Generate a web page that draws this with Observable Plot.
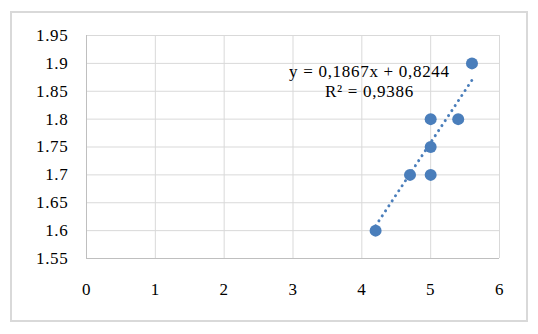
<!DOCTYPE html>
<html>
<head>
<meta charset="utf-8">
<script src="https://cdn.jsdelivr.net/npm/d3@7"></script>
<script src="https://cdn.jsdelivr.net/npm/@observablehq/plot@0.6"></script>
<style>
html, body { margin: 0; padding: 0; background: #fff; }
#wrap { position: relative; width: 538px; height: 334px; overflow: hidden; }
#wrap svg { position: absolute; left: 0; top: 0; }
#frame { position: absolute; left: 10px; top: 11px; width: 514px; height: 307px; border: 2px solid #d9d9d9; pointer-events: none; }
#wrap svg text { letter-spacing: 0.7px; }
</style>
</head>
<body>
<div id="wrap"><div id="frame"></div></div>
<script>
// Data
const xValues = [4.2, 4.7, 5, 5, 5, 5.4, 5.6];
const yValues = [1.6, 1.7, 1.7, 1.75, 1.8, 1.8, 1.9];
const xTicks = [0, 1, 2, 3, 4, 5, 6];
const yTicks = [1.55, 1.6, 1.65, 1.7, 1.75, 1.8, 1.85, 1.9, 1.95];
const yTickLabels = ["1.55", "1.6", "1.65", "1.7", "1.75", "1.8", "1.85", "1.9", "1.95"];
const trendSlope = 0.1867;
const trendIntercept = 0.8244;
const equationLines = ["y = 0,1867x + 0,8244", "R² = 0,9386"];

const points = xValues.map((x, i) => ({x, y: yValues[i]}));
const xMin = d3.min(xValues), xMax = d3.max(xValues);
const trend = [xMin, xMax].map(x => ({x, y: trendSlope * x + trendIntercept}));
const blue = "#4a7ebb";

const chart = Plot.plot({
  width: 538,
  height: 334,
  marginLeft: 86,
  marginRight: 39,
  marginTop: 35,
  marginBottom: 76,
  style: {fontFamily: "'Liberation Serif', 'Times New Roman', serif", fontSize: "17px", color: "#000", background: "transparent", overflow: "visible"},
  x: {domain: [0, 6]},
  y: {domain: [1.55, 1.95]},
  marks: [
    Plot.gridX(xTicks, {stroke: "#d9d9d9", strokeOpacity: 1}),
    Plot.gridY(yTicks, {stroke: "#d9d9d9", strokeOpacity: 1}),
    Plot.ruleX([0], {stroke: "#bfbfbf"}),
    Plot.ruleY([1.55], {stroke: "#bfbfbf"}),
    Plot.axisX(xTicks, {tickSize: 0, tickPadding: 24, label: null, tickFormat: d => String(d)}),
    Plot.axisY(yTicks, {tickSize: 0, tickPadding: 18, label: null, tickFormat: (d, i) => yTickLabels[i]}),
    Plot.line(trend, {x: "x", y: "y", stroke: blue, strokeWidth: 3, strokeDasharray: "0.01 6", strokeLinecap: "round"}),
    Plot.dot(points, {x: "x", y: "y", r: 6, fill: blue, stroke: "none"}),
    Plot.text([equationLines.join("\n")], {x: () => 4.11, y: () => 1.9, text: d => d, lineAnchor: "top", lineHeight: 1.165, textAnchor: "middle", fill: "#000"})
  ]
});
document.getElementById("wrap").insertBefore(chart, document.getElementById("frame"));
</script>
</body>
</html>
